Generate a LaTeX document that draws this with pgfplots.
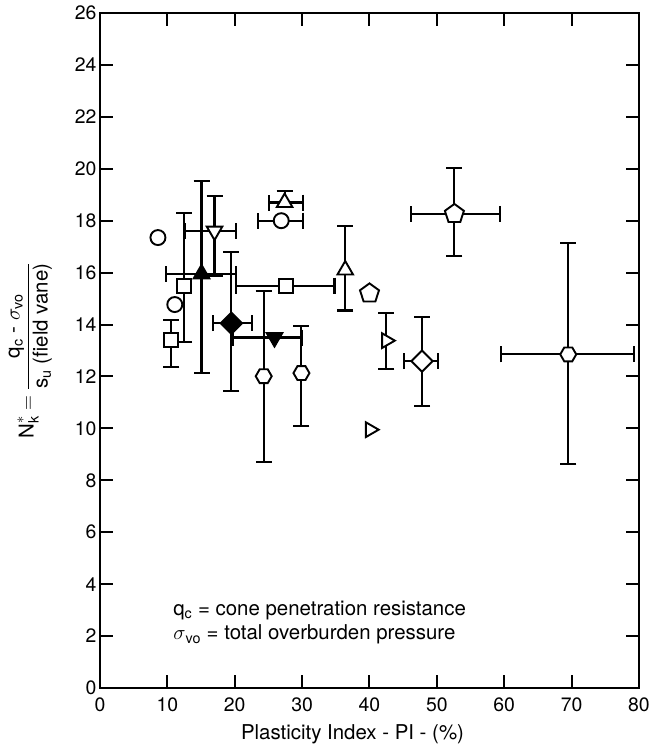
\documentclass[border=0pt]{standalone}
\usepackage{pgfplots}
\pgfplotsset{compat=1.18}
\usepackage{amsmath}
\usepackage{fontspec}
\setmainfont{TeX Gyre Heros}
\usetikzlibrary{plotmarks}

% hexagon mark, flat top and bottom
\pgfdeclareplotmark{hexagon*}{%
  \pgfpathmoveto{\pgfqpointpolar{0}{\pgfplotmarksize}}%
  \pgfpathlineto{\pgfqpointpolar{60}{\pgfplotmarksize}}%
  \pgfpathlineto{\pgfqpointpolar{120}{\pgfplotmarksize}}%
  \pgfpathlineto{\pgfqpointpolar{180}{\pgfplotmarksize}}%
  \pgfpathlineto{\pgfqpointpolar{240}{\pgfplotmarksize}}%
  \pgfpathlineto{\pgfqpointpolar{300}{\pgfplotmarksize}}%
  \pgfpathclose
  \pgfusepathqfillstroke}

\newcommand{\tck}{\fontsize{19.5}{23}\selectfont}
\newcommand{\txt}{\fontsize{20.5}{24}\selectfont}

\pgfplotsset{
  every error bar/.append style={line width=2.1bp},
  pt/.style={only marks, black, line width=2.1bp,
    mark options={solid, line width=1.9bp, fill=white, #1}},
  pt/.default={},
  exy/.style={error bars/.cd, x dir=both, x explicit, y dir=both, y explicit, eb},
  ey/.style={error bars/.cd, y dir=both, y explicit, eb},
  ex/.style={error bars/.cd, x dir=both, x explicit, eb},
  error bars/eb/.style={error bar style={line width=2.1bp},
    error mark options={rotate=90, line width=2.1bp, mark size=8bp}},
}

\begin{document}
\begin{tikzpicture}
\path[use as bounding box] (-100bp,-58bp) rectangle (564bp,688bp);
\begin{axis}[
  at={(0,0)}, anchor=south west,
  scale only axis, width=539bp, height=675bp,
  xmin=0, xmax=80, ymin=0, ymax=26,
  xtick={0,10,...,80}, ytick={0,2,...,26},
  tick pos=both, tick align=inside,
  major tick length=13bp,
  tick style={line width=2bp, black},
  axis line style={line width=2.4bp},
  tick label style={font=\tck},
  xticklabel style={yshift=-6bp},
  label style={font=\txt},
  xlabel style={xshift=-17bp, yshift=-6bp},
  ylabel style={yshift=16bp},
  /pgf/number format/assume math mode=true,
  xlabel={Plasticity Index - PI - (\%)},
  ylabel={$\text{N}^{*}_{\text{k}} = \dfrac{\text{q\textsubscript{c} - }\sigma_{\text{vo}}}{\text{s\textsubscript{u} (field vane)}}$},
  clip=false,
]
% open circles
\addplot[pt, mark=*, mark size=7.5bp] coordinates {(8.6,17.35)};
\addplot[pt, mark=*, mark size=7.5bp] coordinates {(11.1,14.77)};
% open squares
\addplot[pt, mark=square*, mark size=7bp, ey] coordinates {(10.6,13.42) += (0,0.77) -= (0,1.05)};
\addplot[pt, mark=square*, mark size=7bp, ey] coordinates {(12.5,15.5) += (0,2.78) -= (0,2.18)};
% filled triangle
\addplot[pt={fill=black}, mark=triangle*, mark size=9bp, exy] coordinates {(15.07,15.95) += (5.18,3.59) -= (5.34,3.8)};
% open inverted triangle
\addplot[pt={rotate=180}, mark=triangle*, mark size=9bp, exy] coordinates {(17.0,17.6) += (3.25,1.36) -= (4.4,1.72)};
% filled diamond
\addplot[pt={rotate=45, fill=black}, mark=square*, mark size=7.5bp, exy] coordinates {(19.5,14.05) += (3.0,2.73) -= (2.7,2.62)};
% hexagons
\addplot[pt, mark=hexagon*, mark size=8bp, ey] coordinates {(24.3,12.01) += (0,3.29) -= (0,3.31)};
\addplot[pt, mark=hexagon*, mark size=8bp, ey] coordinates {(29.9,12.13) += (0,1.83) -= (0,2.03)};
% filled inverted triangle
\addplot[pt={rotate=180, fill=black}, mark=triangle*, mark size=9bp, ex] coordinates {(25.9,13.5) += (4.0,0) -= (6.15,0)};
% open square, wide PI range
\addplot[pt, mark=square*, mark size=7bp, ex] coordinates {(27.66,15.5) += (7.14,0) -= (7.41,0)};
% circle and triangle near PI 27
\addplot[pt, mark=*, mark size=7.5bp, ex] coordinates {(26.9,18.0) += (3.2,0) -= (3.45,0)};
\addplot[pt, mark=triangle*, mark size=9bp, exy] coordinates {(27.4,18.7) += (2.7,0.43) -= (2.3,0)};
% open triangle PI 36
\addplot[pt, mark=triangle*, mark size=9bp, ey] coordinates {(36.4,16.1) += (0,1.7) -= (0,1.56)};
% pentagons
\addplot[pt, mark=pentagon*, mark size=10bp] coordinates {(40.0,15.2)};
\addplot[pt, mark=pentagon*, mark size=10bp, exy] coordinates {(52.6,18.26) += (6.8,1.77) -= (6.4,1.61)};
% right-pointing triangles
\addplot[pt={rotate=-90}, mark=triangle*, mark size=8.5bp, ey] coordinates {(42.5,13.38) += (0,1.05) -= (0,1.08)};
\addplot[pt={rotate=-90}, mark=triangle*, mark size=8.5bp] coordinates {(40.1,9.95)};
% open diamond
\addplot[pt={rotate=45}, mark=square*, mark size=7.5bp, exy] coordinates {(47.8,12.59) += (2.31,1.69) -= (2.62,1.74)};
% hexagon, high PI
\addplot[pt, mark=hexagon*, mark size=8bp, exy] coordinates {(69.5,12.85) += (9.7,4.29) -= (10.0,4.21)};

\node[anchor=base west, font=\txt, inner sep=0pt] at (axis cs:10.86,2.8) {q\textsubscript{c} = cone penetration resistance};
\node[anchor=base west, font=\txt, inner sep=0pt] at (axis cs:10.86,1.85) {$\sigma$\textsubscript{vo} = total overburden pressure};
\end{axis}
\end{tikzpicture}
\end{document}
